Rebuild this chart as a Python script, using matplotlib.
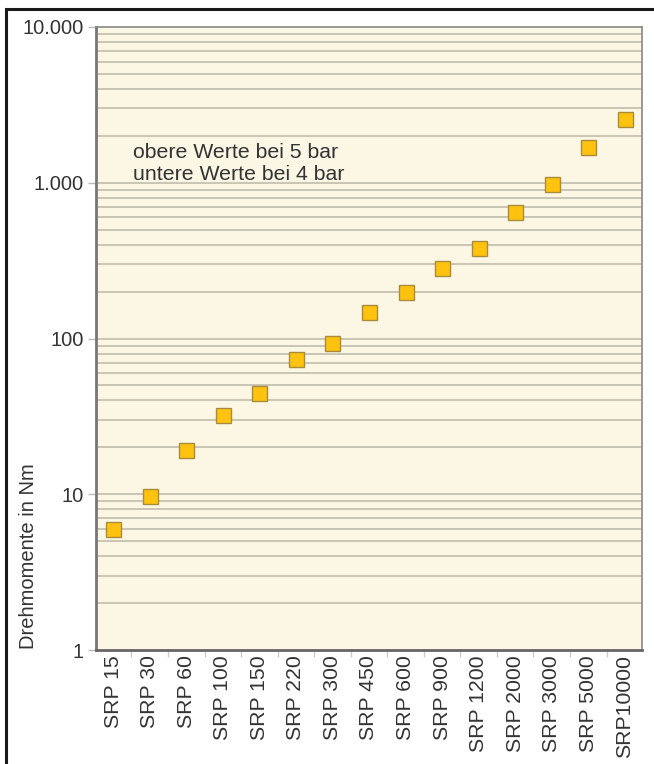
import numpy as np
import matplotlib
matplotlib.use('agg')
import matplotlib.pyplot as plt
from matplotlib.patches import Rectangle
from matplotlib.ticker import FixedLocator, FuncFormatter, NullFormatter

plt.rcParams['font.family'] = ['Liberation Sans', 'DejaVu Sans']

# Drehmomente je Typ (Nm)
types = ['SRP 15', 'SRP 30', 'SRP 60', 'SRP 100', 'SRP 150', 'SRP 220',
         'SRP 300', 'SRP 450', 'SRP 600', 'SRP 900', 'SRP 1200', 'SRP 2000',
         'SRP 3000', 'SRP 5000', 'SRP10000']
torque = [6, 9.8, 19.2, 32.4, 44.6, 73.5, 93.5, 148, 200, 283, 382, 650, 980, 1690, 2560]
y_major = [1, 10, 100, 1000, 10000]
y_major_labels = ['1', '10', '100', '1.000', '10.000']
note_lines = ['obere Werte bei 5 bar', 'untere Werte bei 4 bar']

text_col = '#333333'
W, H = 654, 764
fig = plt.figure(figsize=(W / 100, H / 100), dpi=100)
ax = fig.add_axes([96 / W, 1 - 650 / H, (642 - 96) / W, (650 - 27) / H])

ax.set_facecolor('#fcf7e5')
ax.set_yscale('log')
ax.set_ylim(1, 10000)
ax.set_xlim(-0.47, len(types) - 0.53)

# Gitterlinien bei allen Zwischenwerten
grid_vals = [m * 10 ** e for e in range(4) for m in range(1, 10) if m * 10 ** e > 1]
for v in grid_vals:
    ax.axhline(v, color='#c9c5b5', lw=1.4, zorder=1)

x = np.arange(len(types))
ax.plot(x, torque, ls='none', marker='s', ms=10.8, mfc='#ffc20e', mec='#a88c3c',
        mew=1.0, zorder=3, clip_on=False)

ax.yaxis.set_major_locator(FixedLocator(y_major))
ax.yaxis.set_major_formatter(FuncFormatter(lambda v, p: y_major_labels[y_major.index(v)] if v in y_major else ''))
ax.yaxis.set_minor_formatter(NullFormatter())
ax.tick_params(axis='y', which='minor', length=0)
ax.tick_params(axis='y', which='major', length=6, width=1, color='#bbbbbb',
               labelsize=14.5, labelcolor=text_col, pad=3)

ax.set_xticks(x)
ax.set_xticklabels(types, rotation=90, fontsize=15.3, color=text_col)
ax.set_xticks(np.arange(len(types) - 1) + 0.5, minor=True)
ax.tick_params(axis='x', which='major', length=0, pad=4)
ax.tick_params(axis='x', which='minor', length=5, width=1, color='#cccccc')

for side in ['top', 'right']:
    ax.spines[side].set_color('#888888')
    ax.spines[side].set_linewidth(1.2)
ax.spines['left'].set_color('#777777')
ax.spines['left'].set_linewidth(2)
ax.spines['bottom'].set_color('#666666')
ax.spines['bottom'].set_linewidth(2)

# Hinweis, zwei Zeilen
for i, line in enumerate(note_lines):
    fig.text(133 / W, 1 - (158 + 22 * i) / H, line, fontsize=15.3,
             color=text_col, va='baseline', ha='left')

fig.text(29 / W, 1 - 556 / H, 'Drehmomente in Nm', rotation=90, fontsize=14.5,
         color=text_col, ha='center', va='center')

# äußerer Rahmen
fig.patches.append(Rectangle((6 / W, -0.1), 1.2, (H - 9) / H + 0.1,
                             transform=fig.transFigure, fill=False,
                             edgecolor='#1a1a1a', lw=2.2))

fig.savefig('out.png', dpi=100)
